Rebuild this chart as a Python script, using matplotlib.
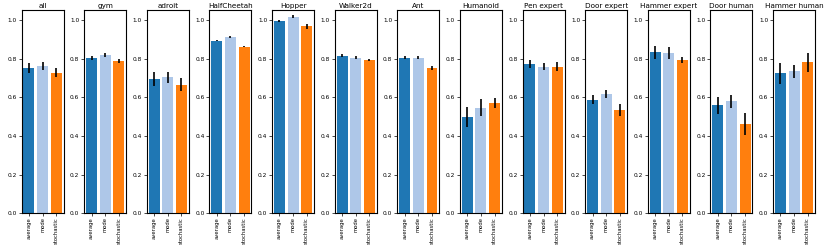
import matplotlib
matplotlib.use("Agg")
import matplotlib.pyplot as plt
import numpy as np

titles = ["all", "gym", "adroit", "HalfCheetah", "Hopper", "Walker2d", "Ant",
          "Humanoid", "Pen expert", "Door expert", "Hammer expert", "Door human", "Hammer human"]
methods = ["average", "mode", "stochastic"]
colors = ["#1f77b4", "#aec7e8", "#ff7f0e"]

average = [0.750, 0.802, 0.695, 0.893, 0.997, 0.814, 0.805, 0.498, 0.774, 0.588, 0.833, 0.559, 0.724]
mode = [0.762, 0.819, 0.703, 0.914, 1.016, 0.805, 0.805, 0.547, 0.759, 0.619, 0.829, 0.579, 0.734]
stochastic = [0.728, 0.790, 0.666, 0.862, 0.967, 0.791, 0.753, 0.571, 0.759, 0.533, 0.793, 0.462, 0.781]

average_err = [0.025, 0.010, 0.035, 0.003, 0.005, 0.008, 0.008, 0.050, 0.020, 0.025, 0.033, 0.043, 0.053]
mode_err = [0.020, 0.012, 0.030, 0.005, 0.008, 0.007, 0.007, 0.045, 0.020, 0.020, 0.033, 0.035, 0.033]
stochastic_err = [0.022, 0.010, 0.035, 0.004, 0.012, 0.005, 0.010, 0.025, 0.025, 0.030, 0.015, 0.055, 0.048]

fig, axes = plt.subplots(1, len(titles), figsize=(8.3, 2.46), dpi=100)
fig.subplots_adjust(left=0.026, right=0.982, top=0.958, bottom=0.133, wspace=0.49)

x = np.arange(len(methods))
for i, ax in enumerate(axes):
    vals = [average[i], mode[i], stochastic[i]]
    errs = [average_err[i], mode_err[i], stochastic_err[i]]
    ax.bar(x, vals, width=0.8, color=colors)
    ax.errorbar(x, vals, yerr=errs, fmt="none", ecolor="black", elinewidth=1.2)
    ax.set_ylim(0, 1.05)
    ax.set_yticks([0.0, 0.2, 0.4, 0.6, 0.8, 1.0])
    ax.set_xticks(x)
    ax.set_xticklabels(methods, rotation=90, fontsize=3.8)
    ax.tick_params(axis="y", labelsize=4.2, length=2, width=0.5, pad=1.5)
    ax.tick_params(axis="x", length=2, width=0.5, pad=1)
    ax.set_title(titles[i], fontsize=5.2, pad=2)
    for s in ax.spines.values():
        s.set_linewidth(0.8)

fig.savefig("out.png", dpi=100)
